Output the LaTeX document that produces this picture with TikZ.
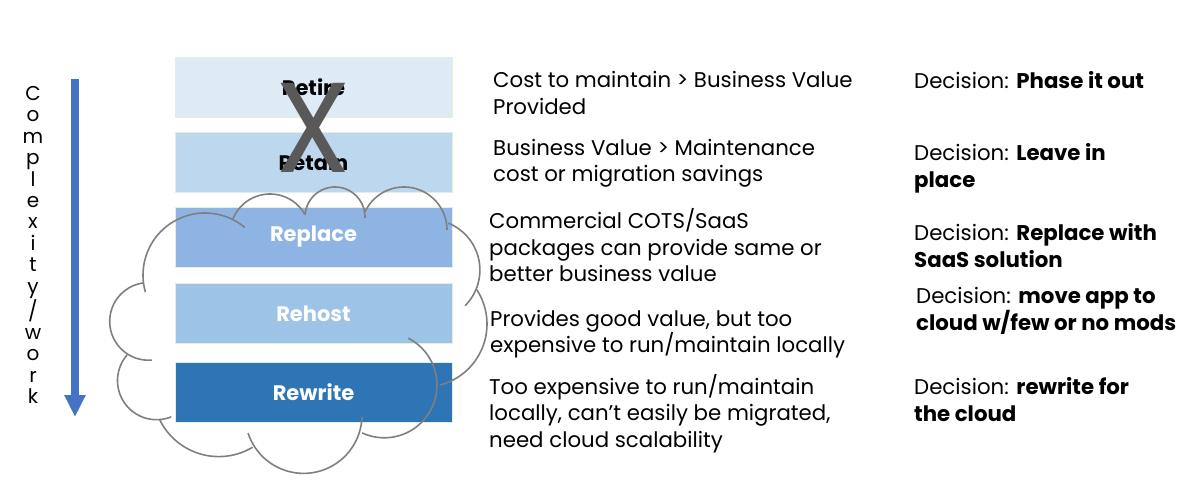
\documentclass[tikz,border=0pt]{standalone}
\usepackage{fontspec}
\usepackage{graphicx}
\setmainfont{Poppins}
\definecolor{retirefill}{RGB}{222, 235, 247}
\definecolor{retainfill}{RGB}{189, 215, 238}
\definecolor{replacefill}{RGB}{142, 180, 227}
\definecolor{rehostfill}{RGB}{157, 195, 230}
\definecolor{rewritefill}{RGB}{46, 117, 182}
\definecolor{barborder}{RGB}{226, 240, 217}
\definecolor{cloudgray}{RGB}{127, 127, 127}
\definecolor{crossgray}{RGB}{89, 89, 89}
\definecolor{arrowblue}{RGB}{68, 114, 196}
\usetikzlibrary{
  arrows.meta,
  positioning,
}
\tikzset{
  bar/.style={draw=barborder, line width=0.8pt, minimum width=277pt,
    minimum height=60pt, inner sep=0pt, font=\fontsize{21}{24}\selectfont\bfseries},
  desc/.style={anchor=west, align=left, inner sep=0pt,
    font=\fontsize{21.3}{26.5}\selectfont},
  cloudline/.style={cloudgray, line width=1.6pt},
}
\newcommand{\cloudlobe}[5]{%
  \draw [cloudline] plot [domain=#4:#5, samples=40]
    ({#1+#3*cos(\x)},{#2+#3*sin(\x)});}

\begin{document}
\begin{tikzpicture}[x=1pt, y=-1pt]
  \useasboundingbox (0,0) rectangle (1200,481);
  % strategy bars
  \node [bar, fill=retirefill] (retire) at (313.5,87.5) {Retire};
  \node [bar, fill=retainfill] (retain) at (313.5,162.5) {Retain};
  \node [bar, fill=replacefill, text=white] (replace) at (313.5,237) {Replace};
  \node [bar, fill=rehostfill, text=white] (rehost) at (313.5,313.5) {Rehost};
  \node [bar, fill=rewritefill, text=white] (rewrite) at (313.5,392.5) {Rewrite};
  \node [crossgray, inner sep=0pt, font=\fontsize{128}{128}\selectfont]
        (cross) at (313,128) {\scalebox{0.95}[1]{X}};
  % cloud round the last three
  \cloudlobe{148.5}{321.4}{38.8}{262}{85}
  \cloudlobe{205}{275}{62}{164}{310}
  \cloudlobe{270}{234}{40}{-158}{-30}
  \cloudlobe{335}{217}{30}{-176}{2}
  \cloudlobe{404}{230}{43}{-155}{0}
  \cloudlobe{429.4}{270}{50.5}{-68}{45}
  \cloudlobe{424}{324.1}{63}{75}{-33}
  \cloudlobe{384.3}{385.1}{52.7}{115}{-63}
  \cloudlobe{303.6}{415}{58.4}{162}{2}
  \cloudlobe{218.8}{390.8}{65.8}{154}{59}
  \cloudlobe{156.6}{380.6}{39.1}{221}{68}
  % complexity arrow
  \coordinate (arrtop) at (75,79);
  \coordinate (arrbot) at (75,417);
  \draw [arrowblue, line width=7.5pt, -{Triangle[width=20pt, length=22pt]}]
        (arrtop) -- (arrbot);
  \node [align=center, inner sep=0pt, font=\fontsize{20}{21.4}\selectfont]
        (worklabel) at (33,245)
        {C\\o\\m\\p\\l\\e\\x\\i\\t\\y\\/\\w\\o\\r\\k};
  % reasons
  \node [desc] (retirewhy) at (493,93)
        {Cost to maintain > Business Value\\Provided};
  \node [desc] (retainwhy) at (493,163.5)
        {Business Value > Maintenance\\cost or migration savings};
  \node [desc] (replacewhy) at (489,245.5)
        {Commercial COTS/SaaS\\packages can provide same or\\better business value};
  \node [desc] (rehostwhy) at (490,334)
        {Provides good value, but too\\expensive to run/maintain locally};
  \node [desc] (rewritewhy) at (489,413.5)
        {Too expensive to run/maintain\\locally, can’t easily be migrated,\\need cloud scalability};
  % decisions
  \node [desc] (retiredec) at (914,80) {Decision: \textbf{Phase it out}};
  \node [desc] (retaindec) at (914,168.5)
        {Decision: \textbf{Leave in}\\\textbf{place}};
  \node [desc] (replacedec) at (914,245.5)
        {Decision: \textbf{Replace with}\\\textbf{SaaS solution}};
  \node [desc] (rehostdec) at (916,311)
        {Decision: \textbf{move app to}\\\textbf{cloud w/few or no mods}};
  \node [desc] (rewritedec) at (914,399.5)
        {Decision: \textbf{rewrite for}\\\textbf{the cloud}};
\end{tikzpicture}
\end{document}
